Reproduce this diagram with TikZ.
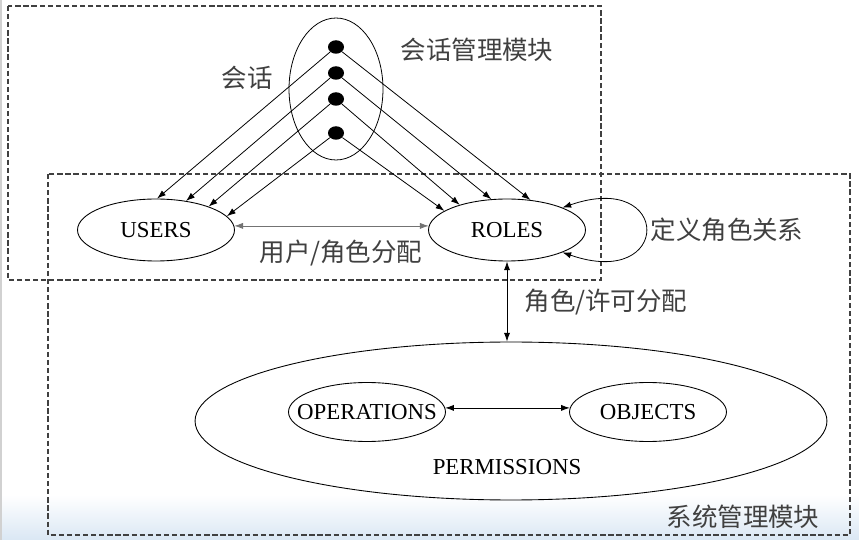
\documentclass[tikz,border=0pt]{standalone}
\usepackage{fontspec}
\setmainfont{Liberation Serif}
\newfontfamily\cjk{Noto Sans CJK SC}
\usepackage{tikz}
\usetikzlibrary{shapes.geometric, arrows.meta}
\definecolor{cngray}{RGB}{64,64,64}
\definecolor{bgblue}{RGB}{218,231,244}
\newcommand{\etext}[1]{\makebox[0pt]{#1}}

\begin{document}
\begin{tikzpicture}[x=0.02cm, y=-0.02cm,
        ent/.style={ellipse, draw, line width=0.5pt, inner sep=0pt, minimum width=3.14cm, minimum height=1.24cm, font=\fontsize{13}{15}\selectfont},
        sdot/.style={ellipse, fill=black, inner sep=0pt, minimum width=0.32cm, minimum height=0.27cm},
        arr/.style={-{Latex[length=5pt,width=3.5pt]}, line width=0.45pt},
        darr/.style={{Latex[length=5pt,width=3.5pt]}-{Latex[length=5pt,width=3.5pt]}, line width=0.45pt},
        module/.style={dash pattern=on 3pt off 1.6pt, line width=0.7pt, black!75},
        cn/.style={font=\cjk\fontsize{14.5}{16}\selectfont, text=cngray, inner sep=0pt}]
        \useasboundingbox (0,0) rectangle (859,540);
        \shade[top color=white, bottom color=bgblue] (0,495) rectangle (859,540);
        \fill[black!18] (0,0) rectangle (2.5,540);

        % module frames
        \draw[module] (8,6) rectangle (601,280);
        \draw[module] (48,174) rectangle (850,535);

        \node[ellipse, draw, line width=0.45pt, inner sep=0pt, minimum width=1.88cm, minimum height=2.84cm] (sess) at (336,89) {};
        \node[sdot] (d1) at (336,47) {};
        \node[sdot] (d2) at (336,73) {};
        \node[sdot] (d3) at (336,99) {};
        \node[sdot] (d4) at (336,133) {};

        \node[ent] (users) at (156,230) {\etext{USERS}};
        \node[ent] (roles) at (507,230) {\etext{ROLES}};
        \node[ent, minimum width=12.64cm, minimum height=3.16cm] (perm) at (511,421) {};
        \node[ent, minimum height=1.18cm] (ops) at (367,412) {\etext{OPERATIONS}};
        \node[ent, minimum height=1.18cm] (objs) at (648,412) {\etext{OBJECTS}};
        \node[font=\fontsize{13}{15}\selectfont] (permtxt) at (507,467) {PERMISSIONS};

        \node[cn] (sessmod) at (477,50) {会话管理模块};
        \node[cn] (sesslbl) at (247,78) {会话};
        \node[cn] (ualbl) at (341,253) {用户/角色分配};
        \node[cn] (rhlbl) at (727,230) {定义角色关系};
        \node[cn] (palbl) at (606,302) {角色/许可分配};
        \node[cn] (sysmod) at (743,517) {系统管理模块};

        \draw[arr] (d1) -- (users.88);
        \draw[arr] (d2) -- (users.44);
        \draw[arr] (d3) -- (users.24);
        \draw[arr] (d4) -- (users.11);
        \draw[arr] (d1) -- (roles.52);
        \draw[arr] (d2) -- (roles.117);
        \draw[arr] (d3) -- (roles.152);
        \draw[arr] (d4) -- (roles.163);

        \draw[darr, black!55] (users.3) -- (roles.177);
        \draw[darr] (roles.22) .. controls +(110,-38) and +(110,38) .. (roles.-22);
        \draw[darr] (roles.south) -- (roles.south |- perm.north);
        \draw[darr] (ops.3) -- (objs.177);
    \end{tikzpicture}
\end{document}
